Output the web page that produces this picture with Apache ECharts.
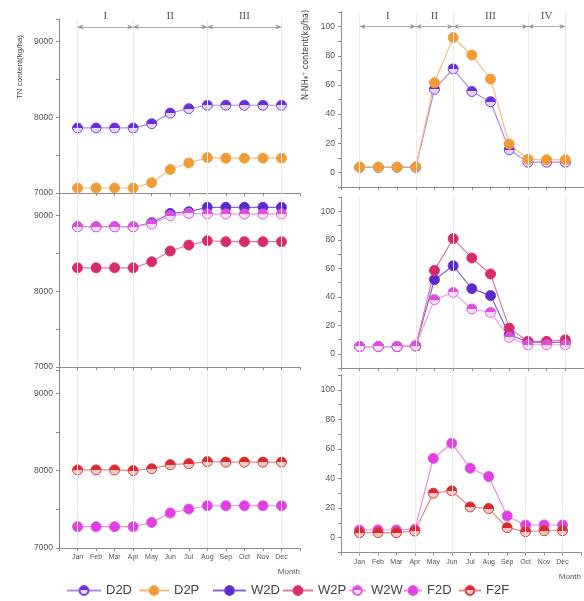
<!DOCTYPE html>
<html><head><meta charset="utf-8">
<script src="https://cdn.jsdelivr.net/npm/echarts@6/dist/echarts.min.js"></script>
<style>html,body{margin:0;padding:0;background:#fff}#c{width:584px;height:601px}</style>
</head><body><div id="c"></div>
<script>
const months = ['Jan','Feb','Mar','Apr','May','Jun','Jul','Aug','Sep','Oct','Nov','Dec'];
const leftTickLabels = [7000, 8000, 9000];
const rightTickLabels = [0, 20, 40, 60, 80, 100];

// TN content (kg/ha)
const tnD2D = [7860,7860,7860,7860,7917,8057,8115,8160,8160,8160,8160,8160];
const tnD2P = [7066,7066,7066,7066,7137,7310,7397,7468,7460,7460,7460,7460];
const tnW2D = [8854,8854,8854,8854,8907,9030,9053,9111,9111,9111,9111,9111];
const tnW2P = [8311,8311,8311,8311,8391,8532,8612,8669,8656,8656,8656,8656];
const tnW2W = [8854,8854,8854,8854,8890,9000,9030,9022,9022,9022,9022,9022];
const tnF2D = [7275,7275,7275,7275,7331,7452,7503,7546,7546,7546,7546,7546];
const tnF2F = [8009,8009,8009,8000,8025,8077,8090,8116,8110,8110,8110,8110];

// N-NH4+ content (kg/ha)
const nhD2D = [3.5,3.5,3.5,3.5,57,71,55.5,48.5,15.5,7,7,7];
const nhD2P = [3.7,3.7,3.7,3.9,61.5,92.5,80.5,64,19.5,9,8.7,8.7];
const nhW2D = [5,5,5,5.5,52,61.8,45.7,40.8,13.4,8.2,8,8];
const nhW2P = [5,5,5,5.5,58.5,80.8,67.2,56,18,8.7,8.7,9.8];
const nhW2W = [5.1,5.1,5.1,5.6,38,43,31.4,29,11.5,6.3,6.3,6.3];
const nhF2D = [5.2,5.2,5.2,5.6,53.6,63.8,47,41.4,14.7,8.6,8.6,8.6];
const nhF2F = [3.4,3.4,3.4,4.5,30.1,31.7,20.8,19.7,6.8,4.1,4.7,4.7];

// period annotations: [startMonth, endMonth, label]
const leftPeriods = [[1,4,'I'],[4,8,'II'],[8,12,'III']];
const rightPeriods = [[1,4,'I'],[4,6,'II'],[6,10,'III'],[10,12,'IV']];
const leftPeriodLevel = 9195;
const rightPeriodLevel = 100;

const chart = echarts.init(document.getElementById('c'), null, {renderer:'canvas'});

function half(dark, light){
  return new echarts.graphic.LinearGradient(0,0,0,1,[
    {offset:0,color:dark},{offset:0.5,color:dark},{offset:0.5,color:light},{offset:1,color:light}]);
}
const styles = {
  D2D:{marker:half('#6a2ed8','#e6d6fb'), border:'#7a44dc', line:'#ac8cec'},
  D2P:{marker:'#f29a33', border:'#f2a448', line:'#f6bd80'},
  W2D:{marker:'#5e28cc', border:'#6a3ad0', line:'#8a62dc'},
  W2P:{marker:'#d62a6c', border:'#d63a74', line:'#e47aa2'},
  W2W:{marker:half('#e04ce0','#fbe0fb'), border:'#e35ee3', line:'#eea0ee'},
  F2D:{marker:'#e23ee6', border:'#e252e6', line:'#ea8cec'},
  F2F:{marker:half('#d82a2a','#f8c8c8'), border:'#dc3c3c', line:'#e88a8a'}
};

const grids = [
  {left:59, top:19, width:241, height:174},
  {left:59, top:193, width:241, height:174},
  {left:59, top:370, width:241, height:178},
  {left:341, top:12, width:249, height:175},
  {left:341, top:197, width:249, height:171},
  {left:341, top:375, width:249, height:177.5}
];

const axisCol = '#8c8c8c';
function xAxisFor(i, showLabels){
  return {
    type:'value', gridIndex:i, min:0, max:13, interval:1,
    axisLine:{show:true, onZero:false, lineStyle:{color:axisCol, width:1}},
    axisTick:{show:true, length:3, lineStyle:{color:axisCol}},
    splitLine:{show:false},
    axisLabel:{show:showLabels, margin:6, fontSize:7, color:'#555', fontFamily:'Liberation Sans, Arial',
      formatter:v=> (v>=1 && v<=12) ? months[v-1] : ''},
    name: showLabels ? 'Month' : '',
    nameLocation:'end', nameGap:0,
    nameTextStyle:{align:'right', verticalAlign:'top', padding:[20,0,0,0], fontSize:8, color:'#555', fontFamily:'Liberation Sans, Arial'}
  };
}
function yLeft(i){
  return {
    type:'value', gridIndex:i, min:7000, max:9300, interval:500,
    axisLine:{show:true, lineStyle:{color:axisCol}},
    axisTick:{show:true, length:3, lineStyle:{color:axisCol}},
    splitLine:{show:false},
    axisLabel:{margin:6, fontSize:8.5, color:'#555', fontFamily:'Liberation Sans, Arial',
      formatter:v=> leftTickLabels.indexOf(v)>=0 ? String(v) : ''}
  };
}
function yRight(i){
  return {
    type:'value', gridIndex:i, min:-10, max:110, interval:10,
    axisLine:{show:true, lineStyle:{color:axisCol}},
    axisTick:{show:true, length:3, lineStyle:{color:axisCol}},
    splitLine:{show:false},
    axisLabel:{margin:6, fontSize:8.5, color:'#555', fontFamily:'Liberation Sans, Arial',
      formatter:v=> rightTickLabels.indexOf(v)>=0 ? String(v) : ''}
  };
}

function toPts(arr){ return arr.map((v,i)=>[i+1, v]); }

function vLines(periods){
  const xs = [];
  periods.forEach(p=>{ if(xs.indexOf(p[0])<0) xs.push(p[0]); if(xs.indexOf(p[1])<0) xs.push(p[1]); });
  return {silent:true, symbol:'none', label:{show:false},
    lineStyle:{color:'#ebebeb', width:1, type:'solid'},
    data: xs.map(x=>({xAxis:x}))};
}
function arrows(periods, level){
  return {silent:true, symbol:['arrow','arrow'], symbolSize:[4,6],
    lineStyle:{color:'#9a9a9a', width:0.8, type:'solid'},
    label:{show:true, position:'middle', formatter:p=>p.name, color:'#555', fontSize:11,
      fontFamily:'Liberation Serif, Times New Roman, serif', backgroundColor:'#fff', padding:[0,3]},
    data: periods.map(p=>[{name:p[2], coord:[p[0], level]}, {coord:[p[1], level]}])};
}

function ser(name, data, xi, extra){
  const s = styles[name];
  const o = {
    name, type:'line', xAxisIndex:xi, yAxisIndex:xi, data:toPts(data),
    symbol:'circle', symbolSize:10, showSymbol:true,
    lineStyle:{color:s.line, width:1.2},
    itemStyle:{color:s.marker, borderColor:s.border, borderWidth:1},
    animation:false, emphasis:{disabled:true}
  };
  return Object.assign(o, extra||{});
}

const series = [
  ser('D2D', tnD2D, 0, {markLine:vLines(leftPeriods)}),
  ser('D2P', tnD2P, 0, {markLine:arrows(leftPeriods, leftPeriodLevel)}),
  ser('W2D', tnW2D, 1, {markLine:vLines(leftPeriods)}),
  ser('W2P', tnW2P, 1),
  ser('W2W', tnW2W, 1),
  ser('F2D', tnF2D, 2, {markLine:vLines(leftPeriods)}),
  ser('F2F', tnF2F, 2),
  ser('D2D', nhD2D, 3, {markLine:vLines(rightPeriods)}),
  ser('D2P', nhD2P, 3, {markLine:arrows(rightPeriods, rightPeriodLevel)}),
  ser('W2D', nhW2D, 4, {markLine:vLines(rightPeriods)}),
  ser('W2P', nhW2P, 4),
  ser('W2W', nhW2W, 4),
  ser('F2D', nhF2D, 5, {markLine:vLines(rightPeriods)}),
  ser('F2F', nhF2F, 5)
];

const legendLayout = [['D2D',66,34],['D2P',138,30],['W2D',212,33],['W2P',282,30],['W2W',348,17],['F2D',403,18],['F2F',458,22]];
const legends = legendLayout.map(l=>({
  data:[l[0]], left:l[1], top:584, itemWidth:l[2], itemHeight:11, itemGap:0, padding:0,
  textStyle:{fontSize:13, color:'#444', fontFamily:'Liberation Sans, Arial'},
  selectedMode:false
}));

chart.setOption({
  backgroundColor:'#fff',
  animation:false,
  grid:grids,
  xAxis:[xAxisFor(0,false), xAxisFor(1,false), xAxisFor(2,true), xAxisFor(3,false), xAxisFor(4,false), xAxisFor(5,true)],
  yAxis:[yLeft(0), yLeft(1), yLeft(2), yRight(3), yRight(4), yRight(5)],
  legend:legends,
  series:series,
  graphic:[
    {type:'text', x:20, y:67, rotation:Math.PI/2, silent:true,
      style:{text:'TN content(kg/ha)', fontSize:8, fill:'#444', align:'center', verticalAlign:'middle', fontFamily:'Liberation Sans, Arial'}},
    {type:'text', x:306, y:55, rotation:Math.PI/2, silent:true,
      style:{text:'N-NH\u2084\u207A content(kg/ha)', fontSize:8, fill:'#444', align:'center', verticalAlign:'middle', fontFamily:'DejaVu Sans, Liberation Sans'}}
  ]
});
</script></body></html>
